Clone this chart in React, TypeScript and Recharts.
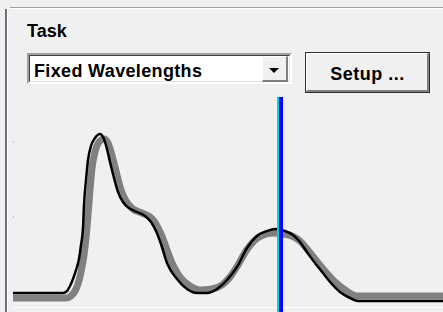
import { LineChart, Line, XAxis, YAxis, ReferenceLine, ReferenceDot } from 'recharts';

// plot units: x = position along the scan, y = signal height above the bottom edge
const measured: [number, number][] = [
  [0, 19], [50, 19], [54, 21], [57, 26], [60, 33], [63, 42], [66, 53], [68, 67], [70, 84],
  [71, 107], [73, 132], [75, 152], [78, 166], [82, 174], [87, 178], [91, 173], [94, 163],
  [97, 150], [101, 134], [105, 120], [110, 110], [116, 104], [124, 100], [132, 96], [138, 90],
  [143, 81], [148, 68], [154, 49], [164, 33], [174, 23], [184, 19], [194, 19], [204, 23],
  [214, 32], [224, 45], [234, 64], [244, 76], [254, 81], [262, 83], [272, 81], [280, 77],
  [287, 70], [294, 60], [302, 49], [310, 39], [318, 29], [327, 20], [337, 14], [345, 11], [430, 11],
];

const reference: [number, number][] = [
  [0, 14], [53, 14], [58, 16], [62, 21], [65, 28], [68, 40], [71, 57], [73, 74], [75, 97],
  [77, 122], [79, 144], [82, 160], [86, 170], [91, 173], [95, 169], [98, 160], [101, 149],
  [104, 137], [108, 122], [113, 111], [120, 103], [129, 99], [137, 95], [143, 88], [148, 78],
  [154, 62], [160, 47], [167, 35], [177, 26], [187, 22], [199, 23], [209, 27], [217, 35],
  [225, 47], [233, 61], [241, 71], [250, 77], [259, 79], [270, 78], [279, 76], [287, 71],
  [294, 63], [302, 53], [311, 42], [321, 31], [332, 22], [344, 16], [430, 16],
];

const cursorX = 268;
const cursorShadowX = 265;
const axisMarks = [170, 95];

const taskLabel = 'Task';
const taskValue = 'Fixed Wavelengths';
const setupLabel = 'Setup ...';

const toRows = (pts: [number, number][]) => pts.map(([x, y]) => ({ x, y }));

const font = '"Liberation Sans", Arial, sans-serif';

export default function App() {
  return (
    <div style={{ position: 'absolute', left: 0, top: 0, width: 443, height: 312, background: '#f0f0f0', overflow: 'hidden', fontFamily: font }}>
      {/* frame */}
      <div style={{ position: 'absolute', left: 10, top: 7, width: 433, height: 1, background: '#a0a0a0' }} />
      <div style={{ position: 'absolute', left: 10, top: 8, width: 433, height: 1, background: '#ffffff' }} />
      <div style={{ position: 'absolute', left: 5, top: 9, width: 2, height: 303, background: '#64727f' }} />
      <div style={{ position: 'absolute', left: 7, top: 9, width: 1, height: 303, background: '#ffffff' }} />

      <div style={{ position: 'absolute', left: 27, top: 22, fontSize: 18, lineHeight: '18px', fontWeight: 'bold', color: '#000' }}>{taskLabel}</div>

      {/* combo box */}
      <div style={{ position: 'absolute', left: 27, top: 53, width: 265, height: 31, boxSizing: 'border-box', borderTop: '2px solid #a0a0a0', borderLeft: '2px solid #a0a0a0', borderBottom: '2px solid #ffffff', borderRight: '2px solid #ffffff' }}>
        <div style={{ position: 'absolute', left: 0, top: 0, right: 0, bottom: 0, background: '#ffffff', borderTop: '1px solid #404040', borderLeft: '1px solid #404040', borderBottom: '1px solid #e0e0e0', borderRight: '1px solid #e0e0e0' }} />
        <div style={{ position: 'absolute', left: 5, top: 7, fontSize: 18, lineHeight: '18px', fontWeight: 'bold', letterSpacing: 0.35, color: '#000', whiteSpace: 'nowrap' }}>{taskValue}</div>
        <div style={{ position: 'absolute', left: 233, top: 1, width: 26, height: 26, boxSizing: 'border-box', background: '#f0f0f0', borderTop: '1px solid #ffffff', borderLeft: '1px solid #ffffff', borderBottom: '2px solid #808080', borderRight: '2px solid #808080' }}>
          <div style={{ position: 'absolute', left: 6, top: 11, width: 0, height: 0, borderLeft: '5px solid transparent', borderRight: '5px solid transparent', borderTop: '5px solid #000' }} />
        </div>
      </div>

      {/* button */}
      <div style={{ position: 'absolute', left: 305, top: 52, width: 125, height: 41, boxSizing: 'border-box', border: '1px solid #303030', background: '#f0f0f0' }}>
        <div style={{ position: 'absolute', left: 0, top: 0, right: 0, bottom: 0, borderTop: '1px solid #ffffff', borderLeft: '1px solid #ffffff', borderBottom: '2px solid #808080', borderRight: '2px solid #808080' }} />
        <div style={{ position: 'absolute', left: 0, right: 0, top: 12, textAlign: 'center', fontSize: 18, lineHeight: '18px', fontWeight: 'bold', letterSpacing: 0.5, color: '#000' }}>{setupLabel}</div>
      </div>

      <div style={{ position: 'absolute', left: 12, top: 307, width: 431, height: 1, background: '#ffffff' }} />

      <div style={{ position: 'absolute', left: 13, top: 97 }}>
        <LineChart width={430} height={215} margin={{ top: 0, right: 0, bottom: 0, left: 0 }}>
          <XAxis type="number" dataKey="x" domain={[0, 430]} hide />
          <YAxis type="number" dataKey="y" domain={[0, 215]} hide />
          <Line data={toRows(reference)} dataKey="y" type="monotone" stroke="#808080" strokeWidth={7} dot={false} isAnimationActive={false} />
          <Line data={toRows(measured)} dataKey="y" type="monotone" stroke="#000000" strokeWidth={2.5} dot={false} isAnimationActive={false} />
          <ReferenceLine x={cursorShadowX} stroke="#00d8d8" strokeWidth={2} />
          <ReferenceLine x={cursorX} stroke="#0000ff" strokeWidth={4} />
          {axisMarks.map((v) => (
            <ReferenceDot key={v} x={0} y={v} r={1} fill="#00ffff" stroke="none" ifOverflow="visible" />
          ))}
        </LineChart>
      </div>
    </div>
  );
}
